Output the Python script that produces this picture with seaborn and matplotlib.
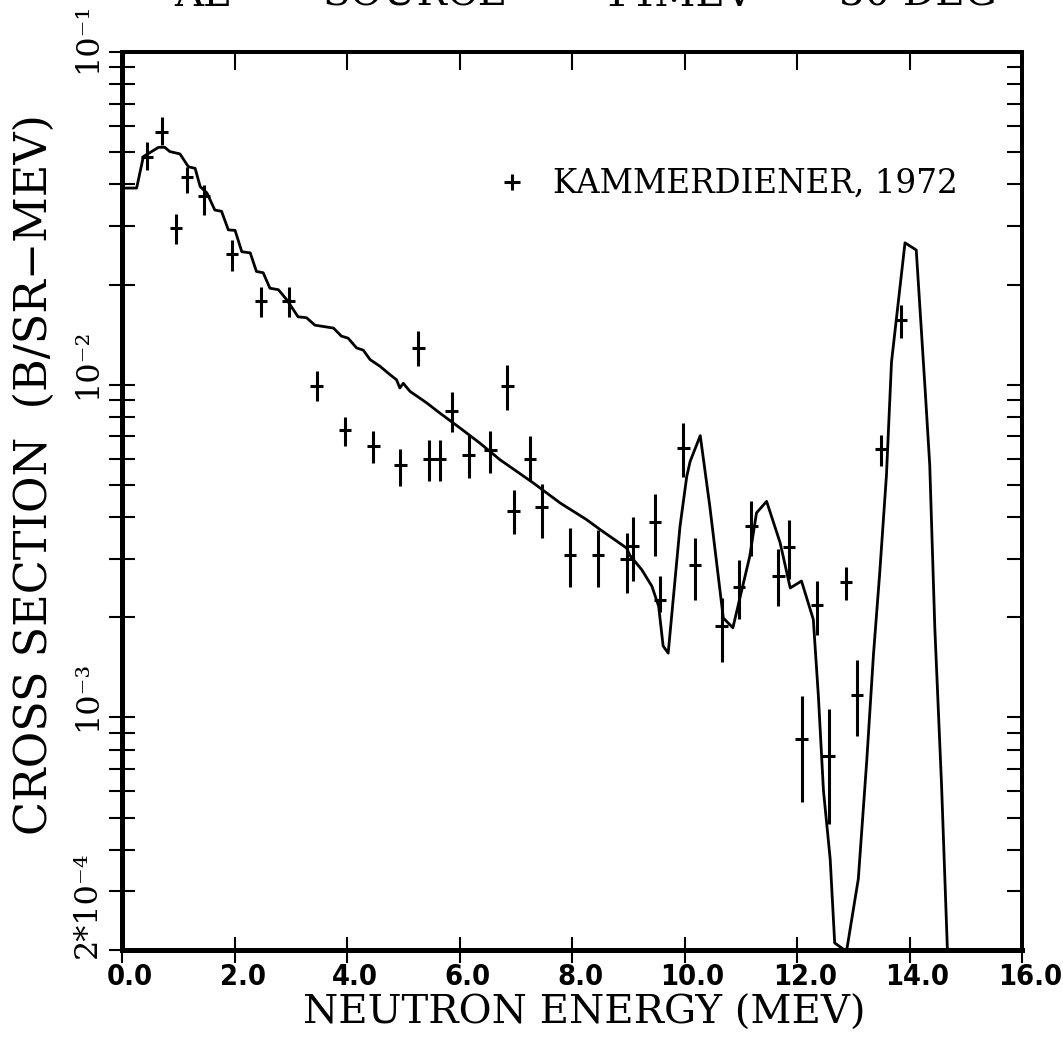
import os
import numpy as np
import pandas as pd
import matplotlib
matplotlib.use("Agg")
import matplotlib.pyplot as plt
import seaborn as sns
from matplotlib.lines import Line2D
from matplotlib.ticker import LogLocator, NullFormatter, NullLocator, FixedLocator
from matplotlib import font_manager as fm
from matplotlib.textpath import TextPath
import matplotlib.transforms as mtransforms

# ---------------- data ----------------
curve_energy = [0.0, 0.26, 0.38, 0.65, 0.76, 0.85, 1.03, 1.18, 1.30, 1.39, 1.51, 1.65, 1.77,
                1.89, 2.01, 2.13, 2.28, 2.39, 2.51, 2.63, 2.78, 2.93, 3.13, 3.28, 3.43, 3.76,
                3.90, 4.02, 4.17, 4.29, 4.41, 4.59, 4.73, 4.88, 4.94, 5.00, 5.12, 5.42, 5.65,
                6.01, 6.36, 6.72, 7.31, 7.79, 8.26, 8.50, 8.97, 9.03, 9.24, 9.42, 9.54, 9.62,
                9.71, 9.92, 10.04, 10.10, 10.28, 10.45, 10.69, 10.86, 11.16, 11.28, 11.46,
                11.70, 11.88, 12.08, 12.29, 12.38, 12.47, 12.59, 12.67, 12.88, 13.09, 13.24,
                13.36, 13.47, 13.59, 13.68, 13.92, 14.12, 14.28, 14.36, 14.45, 14.57, 14.70]
curve_xs = [0.0390, 0.0390, 0.0485, 0.0517, 0.0517, 0.0502, 0.0494, 0.0452, 0.0447, 0.0394,
            0.0377, 0.0335, 0.0332, 0.0292, 0.0291, 0.0251, 0.0249, 0.0219, 0.0217, 0.0195,
            0.0193, 0.0180, 0.0160, 0.0159, 0.0151, 0.0148, 0.0140, 0.0138, 0.0129, 0.0127,
            0.0119, 0.01135, 0.01084, 0.01035, 0.00978, 0.0101, 0.00955, 0.00881, 0.00822,
            0.00741, 0.00668, 0.00595, 0.00507, 0.00441, 0.00393, 0.00367, 0.00323, 0.00307,
            0.00278, 0.00248, 0.00216, 0.00164, 0.00156, 0.00375, 0.00530, 0.00588, 0.00703,
            0.00431, 0.00199, 0.00186, 0.00305, 0.00412, 0.00446, 0.00335, 0.00245, 0.00257,
            0.00197, 0.00116, 0.000604, 0.000375, 0.000210, 0.000198, 0.000327, 0.000741,
            0.00155, 0.00271, 0.00534, 0.0117, 0.0267, 0.0254, 0.00954, 0.00573, 0.00186,
            0.000625, 0.00015]

exp_energy = [0.44, 0.705, 0.96, 1.16, 1.46, 1.95, 2.47, 2.96, 3.46, 3.96, 4.47, 4.95, 5.27,
              5.46, 5.65, 5.86, 6.16, 6.55, 6.85, 6.96, 7.25, 7.46, 7.96, 8.46, 8.97, 9.08,
              9.48, 9.56, 9.98, 10.19, 10.66, 10.97, 11.19, 11.67, 11.86, 12.08, 12.35, 12.56,
              12.87, 13.07, 13.49, 13.85]
exp_xs = [0.0485, 0.0576, 0.0296, 0.0422, 0.0368, 0.0247, 0.0179, 0.0178, 0.00993, 0.00729,
          0.00653, 0.00573, 0.0129, 0.00600, 0.00600, 0.00831, 0.00616, 0.00638, 0.00993,
          0.00418, 0.00598, 0.00429, 0.00307, 0.00307, 0.00300, 0.00327, 0.00387, 0.00226,
          0.00646, 0.00287, 0.00188, 0.00247, 0.00375, 0.00266, 0.00326, 0.000859, 0.00217,
          0.000767, 0.00256, 0.00117, 0.00641, 0.0156]
exp_low = [0.0442, 0.0526, 0.0265, 0.0377, 0.0324, 0.0220, 0.0160, 0.0160, 0.00891, 0.00653,
           0.00583, 0.00497, 0.01135, 0.00512, 0.00512, 0.00719, 0.00526, 0.00544, 0.00841,
           0.00357, 0.00512, 0.00347, 0.00247, 0.00247, 0.00237, 0.00257, 0.00305, 0.00207,
           0.00529, 0.00226, 0.00147, 0.00197, 0.00305, 0.00216, 0.00260, 0.000556, 0.00177,
           0.000477, 0.00226, 0.000879, 0.00569, 0.0138]
exp_high = [0.0538, 0.0638, 0.0326, 0.0452, 0.0399, 0.0273, 0.0197, 0.0197, 0.01096, 0.00801,
            0.00724, 0.00642, 0.01446, 0.00680, 0.00680, 0.00948, 0.00708, 0.00728, 0.01148,
            0.00481, 0.00699, 0.00504, 0.00370, 0.00367, 0.00359, 0.00399, 0.00471, 0.00266,
            0.00769, 0.00347, 0.00229, 0.00298, 0.00446, 0.00320, 0.00393, 0.00116, 0.00257,
            0.00106, 0.00284, 0.00149, 0.00708, 0.0174]
exp_energy_halfwidth = 0.11

x_ticks = [0, 2, 4, 6, 8, 10, 12, 14, 16]
x_tick_labels = ["0.0", "2.0", "4.0", "6.0", "8.0", "10.0", "12.0", "14.0", "16.0"]
y_ticks = [2e-4, 1e-3, 1e-2, 1e-1]
y_tick_labels = ["2*10\u207b\u2074", "10\u207b\u00b3", "10\u207b\u00b2", "10\u207b\u00b9"]
legend_label = "KAMMERDIENER, 1972"
title_parts = ["AL", "SOURCE", "14MEV", "30 DEG"]


# ---------------- fonts ----------------
def pick_condensed_bold():
    prefs = ["liberationsansnarrow-bold.", "dejavusanscondensed-bold.",
             "notosans-condensedbold.", "robotocondensed-bold.", "opensans-condensedbold."]
    entries = fm.fontManager.ttflist
    for p in prefs:
        for f in entries:
            if os.path.basename(f.fname).lower().startswith(p):
                return f.fname
    for f in entries:
        fn = os.path.basename(f.fname).lower()
        cond = ("narrow" in fn or "condensed" in fn) and "semi" not in fn and "extra" not in fn
        if cond and "bold" in fn and "italic" not in fn and "oblique" not in fn:
            return f.fname
    return None


cond_path = pick_condensed_bold()
if cond_path:
    xt_prop = fm.FontProperties(fname=cond_path)
else:
    xt_prop = fm.FontProperties(family=["Roboto", "DejaVu Sans"], weight="bold")
w100 = TextPath((0, 0), "10.0", size=100, prop=xt_prop).get_extents().width
xt_size = min(26.0, 60.0 * 72.0 / w100)
xt_prop.set_size(xt_size)

# ---------------- style ----------------
sns.set_style("white")
plt.rcParams.update({
    "font.family": ["DejaVu Serif"],
    "axes.edgecolor": "black",
    "text.color": "black",
    "axes.labelcolor": "black",
    "xtick.color": "black",
    "ytick.color": "black",
})

fig = plt.figure(figsize=(10.63, 10.55), dpi=100)
ax = fig.add_axes([122 / 1063, 1 - 950 / 1055, 900 / 1063, 898 / 1055])
ax.set_yscale("log")
ax.set_xlim(0, 16)
ax.set_ylim(2e-4, 1e-1)

curve_df = pd.DataFrame({"energy": curve_energy, "xs": curve_xs})
sns.lineplot(data=curve_df, x="energy", y="xs", ax=ax, color="black", lw=2.0,
             estimator=None, sort=False)

pts = pd.DataFrame({"energy": exp_energy, "xs": exp_xs, "lo": exp_low, "hi": exp_high})
ax.errorbar(pts["energy"], pts["xs"],
            yerr=[pts["xs"] - pts["lo"], pts["hi"] - pts["xs"]],
            xerr=exp_energy_halfwidth, fmt="none", ecolor="black", elinewidth=2.2,
            capsize=0)

# ---------------- axes ----------------
for side in ["left", "bottom"]:
    ax.spines[side].set_linewidth(3.6)
for side in ["top", "right"]:
    ax.spines[side].set_linewidth(2.8)

ax.set_xticks(x_ticks)
ax.set_xticklabels(x_tick_labels, fontproperties=xt_prop)
ax.xaxis.set_minor_locator(NullLocator())
ax.tick_params(axis="x", which="both", bottom=True, top=False, direction="inout",
               length=19, width=1.5, pad=0)
offx = mtransforms.ScaledTranslation(8 / 100, 0, fig.dpi_scale_trans)
for lbl in ax.get_xticklabels():
    lbl.set_transform(lbl.get_transform() + offx)

ax.set_yticks(y_ticks)
ax.set_yticklabels(y_tick_labels, fontsize=23, rotation=90, va="bottom", ha="right")
ax.yaxis.set_minor_locator(LogLocator(base=10, subs=np.arange(2, 10), numticks=30))
ax.yaxis.set_minor_formatter(NullFormatter())
ax.tick_params(axis="y", which="both", left=True, right=False, direction="inout",
               length=19, width=1.5, pad=4)
for lbl, dpx in zip(ax.get_yticklabels(), [8, 14, 14, 21]):
    off = mtransforms.ScaledTranslation(0, -dpx / 100, fig.dpi_scale_trans)
    lbl.set_transform(lbl.get_transform() + off)

# right and top inward ticks
secy = ax.secondary_yaxis("right")
secy.yaxis.set_major_locator(FixedLocator(y_ticks))
secy.yaxis.set_minor_locator(LogLocator(base=10, subs=np.arange(2, 10), numticks=30))
secy.yaxis.set_major_formatter(NullFormatter())
secy.yaxis.set_minor_formatter(NullFormatter())
secy.tick_params(axis="y", which="both", direction="in", length=11, width=1.5)
secy.spines["right"].set_linewidth(2.8)

secx = ax.secondary_xaxis("top")
secx.xaxis.set_major_locator(FixedLocator(x_ticks))
secx.xaxis.set_major_formatter(NullFormatter())
secx.tick_params(axis="x", which="both", direction="in", length=13, width=1.5)
secx.spines["top"].set_linewidth(2.8)

ax.set_xlabel("NEUTRON ENERGY (MEV)", fontsize=29, va="top")
ax.xaxis.set_label_coords(0.514, -0.050)
ax.set_ylabel("CROSS SECTION  (B/SR\u2212MEV)", fontsize=32)
ax.yaxis.set_label_coords(-0.0733, 0.529)

handle = Line2D([], [], marker="+", ls="none", color="black", ms=12, mew=2.2)
ax.legend(handles=[handle], labels=[legend_label], loc="center left",
          bbox_to_anchor=(0.4152, 0.853), frameon=False, fontsize=23.5,
          handlelength=1.0, handletextpad=0.75, borderpad=0, borderaxespad=0)

# title line, cut off at the top edge of the page as in the scan
for xc, part in zip([202, 415, 678, 918], title_parts):
    fig.text(xc / 1063, 1 - 6 / 1055, part, ha="center", va="baseline", fontsize=29)

fig.savefig("out.png", dpi=100)
